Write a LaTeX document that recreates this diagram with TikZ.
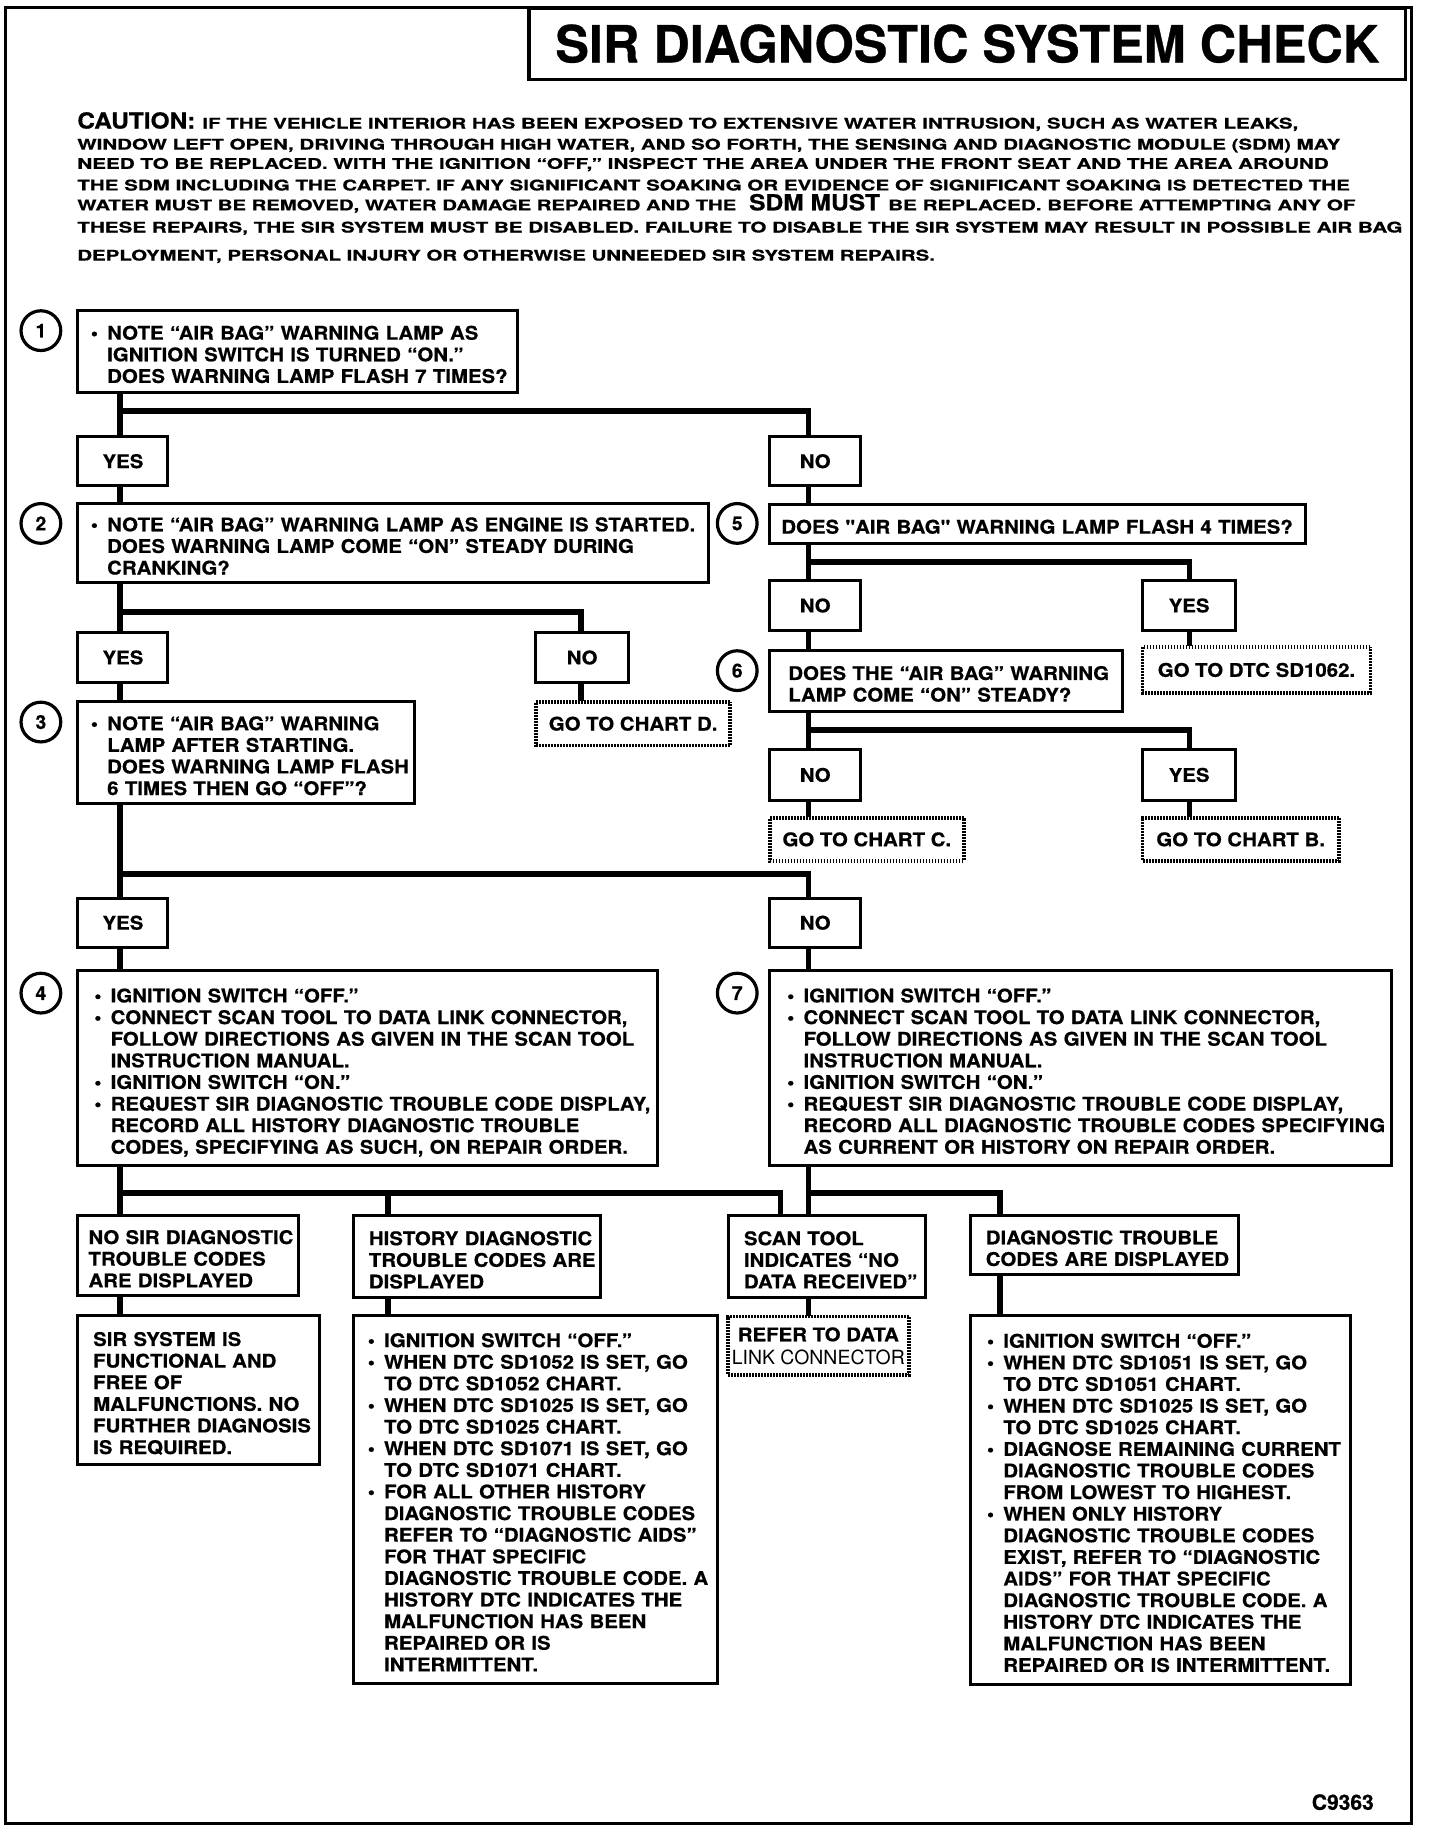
\documentclass[tikz,border=0pt]{standalone}
\usepackage{fontspec}
\usepackage{graphicx}
\setmainfont{TeX Gyre Heros}[BoldFeatures={FakeBold=0.6}]
\newfontfamily\bxf{TeX Gyre Heros}[FakeStretch=1.085, BoldFeatures={FakeBold=0.6}]
\newcommand\bodyfont{\fontsize{16.1}{18.5}\bxf\bfseries}
\newcommand\numfont{\fontsize{16.5}{16.5}\selectfont\bfseries}
\newcommand\tb[1]{\begin{tabular}{@{}l@{}}\rule{0pt}{22.5pt}#1\end{tabular}}
\newcommand\bl{\makebox[14pt][l]{\textbullet}}
\newcommand\ii{\hspace*{14pt}}
\newcommand\cl[3]{\resizebox{#1pt}{#2pt}{\bfseries #3}}
\begin{document}
\begin{tikzpicture}[x=1pt, y=-1pt, scale=0.5844,
  every node/.append style={transform shape},
  conn/.style={line width=2.9pt},
  bx/.style={draw, line width=1.5pt, anchor=north west, inner ysep=0pt, align=left, font=\bodyfont},
  lbl/.style={draw, line width=1.5pt, anchor=north west, inner sep=0pt, font=\bodyfont},
  hatch/.style={draw, line width=1.8pt, dash pattern=on 0.9pt off 0.6pt, anchor=north west, inner sep=0pt, font=\bodyfont},
  circ/.style={circle, draw, line width=1.6pt, minimum size=34pt, inner sep=0pt, font=\numfont},
  cau/.style={anchor=base west, inner sep=0pt}]
\useasboundingbox (0,0) rectangle (1232,1568);
\fill[white] (0,0) rectangle (1232,1568);
% frame and title
\draw[line width=1.5pt] (5,6) rectangle (1208,1561);
\node[draw, line width=1.8pt, anchor=north west, minimum width=750pt, minimum height=61pt, inner sep=0pt] (tbox) at (452,6)
  {\resizebox{705pt}{32.5pt}{\bfseries SIR DIAGNOSTIC SYSTEM CHECK}};
% caution
\node[cau] (ca1) at (66,110) {\cl{101}{14}{CAUTION:}};
\node[cau] (ca1b) at (173,110) {\cl{938}{9.3}{IF THE VEHICLE INTERIOR HAS BEEN EXPOSED TO EXTENSIVE WATER INTRUSION, SUCH AS WATER LEAKS,}};
\node[cau] (ca2) at (66,128) {\cl{1081}{9.3}{WINDOW LEFT OPEN, DRIVING THROUGH HIGH WATER, AND SO FORTH, THE SENSING AND DIAGNOSTIC MODULE (SDM) MAY}};
\node[cau] (ca3) at (66,144.5) {\cl{1071}{9.3}{NEED TO BE REPLACED. WITH THE IGNITION “OFF,” INSPECT THE AREA UNDER THE FRONT SEAT AND THE AREA AROUND}};
\node[cau] (ca4) at (66,163) {\cl{1089}{9.3}{THE SDM INCLUDING THE CARPET. IF ANY SIGNIFICANT SOAKING OR EVIDENCE OF SIGNIFICANT SOAKING IS DETECTED THE}};
\node[cau] (ca5a) at (66,180) {\cl{564}{9.3}{WATER MUST BE REMOVED, WATER DAMAGE REPAIRED AND THE}};
\node[cau] (ca5b) at (641,180) {\cl{112}{14}{SDM MUST}};
\node[cau] (ca5c) at (760,180) {\cl{400}{9.3}{BE REPLACED. BEFORE ATTEMPTING ANY OF}};
\node[cau] (ca6) at (66,199) {\cl{1134}{9.3}{THESE REPAIRS, THE SIR SYSTEM MUST BE DISABLED. FAILURE TO DISABLE THE SIR SYSTEM MAY RESULT IN POSSIBLE AIR BAG}};
\node[cau] (ca7) at (66,223) {\cl{734}{9.3}{DEPLOYMENT, PERSONAL INJURY OR OTHERWISE UNNEEDED SIR SYSTEM REPAIRS.}};
% circles
\node[circ] (c1) at (35,283) {1};
\node[circ] (c2) at (35,448) {2};
\node[circ] (c3) at (35,618) {3};
\node[circ] (c4) at (35,850) {4};
\node[circ] (c5) at (631,448) {5};
\node[circ] (c6) at (631,574) {6};
\node[circ] (c7) at (631,850) {7};
% question boxes
\node[bx, minimum width=376pt, minimum height=70pt, inner xsep=11pt, text width=354pt] (b1) at (66,265)
 {\tb{\bl NOTE “AIR BAG” WARNING LAMP AS\\ \ii IGNITION SWITCH IS TURNED “ON.”\\ \ii DOES WARNING LAMP FLASH 7 TIMES?}};
\node[lbl, minimum width=77pt, minimum height=42pt] (yes1) at (66,373) {YES};
\node[lbl, minimum width=78pt, minimum height=42pt] (no1) at (658,373) {NO};
\node[bx, minimum width=540pt, minimum height=68pt, inner xsep=11pt, text width=518pt] (b2) at (66,430)
 {\tb{\bl NOTE “AIR BAG” WARNING LAMP AS ENGINE IS STARTED.\\ \ii DOES WARNING LAMP COME “ON” STEADY DURING\\ \ii CRANKING?}};
\node[bx, minimum width=459pt, minimum height=33pt, inner xsep=10pt, text width=439pt] (b5) at (658,431)
 {\tb{DOES "AIR BAG" WARNING LAMP FLASH 4 TIMES?}};
\node[lbl, minimum width=77pt, minimum height=42pt] (yes2) at (66,541) {YES};
\node[lbl, minimum width=79pt, minimum height=42pt] (no2) at (458,541) {NO};
\node[hatch, minimum width=166pt, minimum height=37pt] (chd) at (458,600) {GO TO CHART D.};
\node[bx, minimum width=288pt, minimum height=87pt, inner xsep=11pt, text width=266pt] (b3) at (66,600)
 {\tb{\bl NOTE “AIR BAG” WARNING\\ \ii LAMP AFTER STARTING.\\ \ii DOES WARNING LAMP FLASH\\ \ii 6 TIMES THEN GO “OFF”?}};
\node[lbl, minimum width=78pt, minimum height=43pt] (no5) at (658,496) {NO};
\node[lbl, minimum width=80pt, minimum height=43pt] (yes5) at (977,496) {YES};
\node[hatch, minimum width=195pt, minimum height=39pt] (sd62) at (977,553) {GO TO DTC SD1062.};
\node[bx, minimum width=302pt, minimum height=52pt, inner xsep=16pt, text width=270pt] (b6) at (658,556)
 {\tb{DOES THE “AIR BAG” WARNING\\ LAMP COME “ON” STEADY?}};
\node[lbl, minimum width=78pt, minimum height=43pt] (no6) at (658,641) {NO};
\node[lbl, minimum width=80pt, minimum height=43pt] (yes6) at (977,641) {YES};
\node[hatch, minimum width=166pt, minimum height=37pt] (chc) at (658,699) {GO TO CHART C.};
\node[hatch, minimum width=168pt, minimum height=37pt] (chb) at (977,699) {GO TO CHART B.};
\node[lbl, minimum width=77pt, minimum height=42pt] (yes3) at (66,768) {YES};
\node[lbl, minimum width=78pt, minimum height=42pt] (no3) at (658,768) {NO};
\node[bx, minimum width=496pt, minimum height=167pt, inner xsep=14pt, text width=468pt] (b4) at (66,830)
 {\tb{\bl IGNITION SWITCH “OFF.”\\ \bl CONNECT SCAN TOOL TO DATA LINK CONNECTOR,\\ \ii FOLLOW DIRECTIONS AS GIVEN IN THE SCAN TOOL\\ \ii INSTRUCTION MANUAL.\\ \bl IGNITION SWITCH “ON.”\\ \bl REQUEST SIR DIAGNOSTIC TROUBLE CODE DISPLAY,\\ \ii RECORD ALL HISTORY DIAGNOSTIC TROUBLE\\ \ii CODES, SPECIFYING AS SUCH, ON REPAIR ORDER.}};
\node[bx, minimum width=532pt, minimum height=167pt, inner xsep=15pt, text width=502pt] (b7) at (658,830)
 {\tb{\bl IGNITION SWITCH “OFF.”\\ \bl CONNECT SCAN TOOL TO DATA LINK CONNECTOR,\\ \ii FOLLOW DIRECTIONS AS GIVEN IN THE SCAN TOOL\\ \ii INSTRUCTION MANUAL.\\ \bl IGNITION SWITCH “ON.”\\ \bl REQUEST SIR DIAGNOSTIC TROUBLE CODE DISPLAY,\\ \ii RECORD ALL DIAGNOSTIC TROUBLE CODES SPECIFYING\\ \ii AS CURRENT OR HISTORY ON REPAIR ORDER.}};
% result boxes
\node[bx, minimum width=189pt, minimum height=68pt, inner xsep=9pt, text width=171pt] (nosir) at (66,1040)
 {\tb{NO SIR DIAGNOSTIC\\ TROUBLE CODES\\ ARE DISPLAYED}};
\node[bx, minimum width=211pt, minimum height=70pt, inner xsep=13pt, text width=185pt] (hist) at (302,1040)
 {\tb{HISTORY DIAGNOSTIC\\ TROUBLE CODES ARE\\ DISPLAYED}};
\node[bx, minimum width=168pt, minimum height=70pt, inner xsep=13pt, text width=142pt] (scan) at (623,1040)
 {\tb{SCAN TOOL\\ INDICATES “NO\\ DATA RECEIVED”}};
\node[bx, minimum width=229pt, minimum height=50pt, inner xsep=13pt, text width=203pt] (diag) at (830,1040)
 {\tb{DIAGNOSTIC TROUBLE\\ CODES ARE DISPLAYED}};
\node[bx, minimum width=207pt, minimum height=128pt, inner xsep=13pt, text width=181pt] (sirsys) at (66,1125)
 {\tb{SIR SYSTEM IS\\ FUNCTIONAL AND\\ FREE OF\\ MALFUNCTIONS. NO\\ FURTHER DIAGNOSIS\\ IS REQUIRED.}};
\node[bx, minimum width=311pt, minimum height=315pt, inner xsep=12pt, text width=287pt] (histd) at (302,1125)
 {\tb{\bl IGNITION SWITCH “OFF.”\\ \bl WHEN DTC SD1052 IS SET, GO\\ \ii TO DTC SD1052 CHART.\\ \bl WHEN DTC SD1025 IS SET, GO\\ \ii TO DTC SD1025 CHART.\\ \bl WHEN DTC SD1071 IS SET, GO\\ \ii TO DTC SD1071 CHART.\\ \bl FOR ALL OTHER HISTORY\\ \ii DIAGNOSTIC TROUBLE CODES\\ \ii REFER TO “DIAGNOSTIC AIDS”\\ \ii FOR THAT SPECIFIC\\ \ii DIAGNOSTIC TROUBLE CODE. A\\ \ii HISTORY DTC INDICATES THE\\ \ii MALFUNCTION HAS BEEN\\ \ii REPAIRED OR IS\\ \ii INTERMITTENT.}};
\node[hatch, minimum width=155pt, minimum height=50pt, align=center] (refer) at (622,1126)
 {REFER TO DATA\\[1pt] \resizebox{148pt}{12.5pt}{\mdseries LINK CONNECTOR}};
\node[bx, minimum width=325pt, minimum height=316pt, inner xsep=14pt, text width=297pt] (dtcd) at (830,1125)
 {\tb{\bl IGNITION SWITCH “OFF.”\\ \bl WHEN DTC SD1051 IS SET, GO\\ \ii TO DTC SD1051 CHART.\\ \bl WHEN DTC SD1025 IS SET, GO\\ \ii TO DTC SD1025 CHART.\\ \bl DIAGNOSE REMAINING CURRENT\\ \ii DIAGNOSTIC TROUBLE CODES\\ \ii FROM LOWEST TO HIGHEST.\\ \bl WHEN ONLY HISTORY\\ \ii DIAGNOSTIC TROUBLE CODES\\ \ii EXIST, REFER TO “DIAGNOSTIC\\ \ii AIDS” FOR THAT SPECIFIC\\ \ii DIAGNOSTIC TROUBLE CODE. A\\ \ii HISTORY DTC INDICATES THE\\ \ii MALFUNCTION HAS BEEN\\ \ii REPAIRED OR IS INTERMITTENT.}};
\node[anchor=base east, inner sep=0pt, font=\fontsize{18}{18}\selectfont\bfseries] (code) at (1176,1549) {C9363};
% connector coordinates
\coordinate (xL) at (103,0);
\coordinate (xR) at (692,0);
\coordinate (xF) at (1018,0);
\coordinate (xN) at (497,0);
\coordinate (xH) at (332,0);
\coordinate (xS) at (668,0);
\coordinate (xD) at (856,0);
\coordinate (j1) at (103,352);
\coordinate (j2) at (103,524);
\coordinate (j5) at (692,481);
\coordinate (j6) at (692,625);
\coordinate (j3) at (103,748);
\coordinate (j4) at (103,1021);
\coordinate (j7) at (692,1021);
% connectors
\draw[conn] (xL |- b1.south) -- (xL |- yes1.north);
\draw[conn] (j1) -| (xR |- no1.north);
\draw[conn] (xL |- yes1.south) -- (xL |- b2.north);
\draw[conn] (xR |- no1.south) -- (xR |- b5.north);
\draw[conn] (xL |- b2.south) -- (xL |- yes2.north);
\draw[conn] (j2) -| (xN |- no2.north);
\draw[conn] (xN |- no2.south) -- (xN |- chd.north);
\draw[conn] (xL |- yes2.south) -- (xL |- b3.north);
\draw[conn] (xR |- b5.south) -- (xR |- no5.north);
\draw[conn] (j5) -| (xF |- yes5.north);
\draw[conn] (xR |- no5.south) -- (xR |- b6.north);
\draw[conn] (xF |- yes5.south) -- (xF |- sd62.north);
\draw[conn] (xR |- b6.south) -- (xR |- no6.north);
\draw[conn] (j6) -| (xF |- yes6.north);
\draw[conn] (xR |- no6.south) -- (xR |- chc.north);
\draw[conn] (xF |- yes6.south) -- (xF |- chb.north);
\draw[conn] (xL |- b3.south) -- (xL |- yes3.north);
\draw[conn] (j3) -| (xR |- no3.north);
\draw[conn] (xL |- yes3.south) -- (xL |- b4.north);
\draw[conn] (xR |- no3.south) -- (xR |- b7.north);
\draw[conn] (xL |- b4.south) -- (xL |- nosir.north);
\draw[conn] (j4) -| (xS |- scan.north);
\draw[conn] (xH |- j4) -- (xH |- hist.north);
\draw[conn] (xR |- b7.south) -- (xR |- scan.north);
\draw[conn] (j7) -| (xD |- diag.north);
\draw[conn] (xL |- nosir.south) -- (xL |- sirsys.north);
\draw[conn] (xH |- hist.south) -- (xH |- histd.north);
\draw[conn] (xR |- scan.south) -- (xR |- refer.north);
\draw[conn] (xD |- diag.south) -- (xD |- dtcd.north);
\end{tikzpicture}
\end{document}
